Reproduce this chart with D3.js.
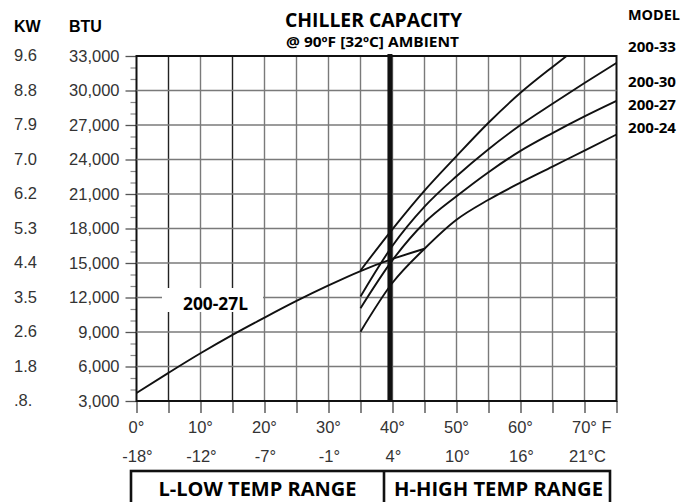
<!DOCTYPE html>
<html><head><meta charset="utf-8">
<script src="https://cdn.jsdelivr.net/npm/d3@7/dist/d3.min.js"></script>
<style>body{margin:0;background:#fff}svg{display:block}</style>
</head><body><svg id="c" width="683" height="502"></svg>
<script>
// ---- data ----
const btuTicks = [3000,6000,9000,12000,15000,18000,21000,24000,27000,30000,33000];
const kwLabels = [".8.","1.8","2.6","3.5","4.4","5.3","6.2","7.0","7.9","8.8","9.6"];
const fTicks = [0,10,20,30,40,50,60,70];
const fLabels = ["0°","10°","20°","30°","40°","50°","60°","70° F"];
const cLabels = ["-18°","-12°","-7°","-1°","4°","10°","16°","21°C"];
const lowTemp = [0,5,10,15,20,25,30,35,40,45];
const lowBtu  = [3700,5450,7150,8750,10250,11700,13050,14300,15350,16240];
const highTemp = [35,40,45,50,55,60,65,70,75];
const m24 = [9030,13280,16240,18760,20500,21990,23380,24780,26170];
const m27 = [11070,15250,18500,20800,22900,24750,26300,27750,29100];
const m30 = [12090,16500,19900,22550,24900,27000,28850,30650,32400];
const m33Temp = [35,40,45,50,55,60,65,67.2];
const m33 = [14350,17950,21300,24300,27200,29800,32050,33000];
const modelNames = ["200-33","200-30","200-27","200-24"];
const dividerTemp = 39.6;

const svg = d3.select("#c");
const x = d3.scaleLinear().domain([0,75]).range([136.5,616.5]);
const y = d3.scaleLinear().domain([3000,33000]).range([401,56]);
const sans = "'Liberation Sans', Arial, sans-serif";
const bold = "'Open Sans', sans-serif";
const W = x(75) - x(0);
const H = y(3000) - y(33000);

// vertical grid
svg.append("g").selectAll("rect").data(d3.range(5,75,5)).enter().append("rect")
  .attr("x",d=>x(d)-0.7).attr("width",1.4).attr("y",y(33000)).attr("height",H)
  .attr("fill",d=>(d===5||d===15)?"#222":"#7a7a7a");

// left axis
const yAxis = d3.axisLeft(y).tickValues(btuTicks).tickSize(11).tickFormat(d3.format(","));
const ya = svg.append("g").attr("transform",`translate(${x(0)},0)`).call(yAxis);
ya.select(".domain").remove();
ya.selectAll(".tick line").attr("stroke","#555").attr("stroke-width",1.3);
ya.selectAll(".tick text").attr("x",-17).attr("font-family",sans).attr("font-size",16.5).attr("fill","#333");
const minor = d3.range(3000,33000,1000).filter(d=>d%3000!==0);
const ym = svg.append("g").attr("transform",`translate(${x(0)},0)`)
  .call(d3.axisLeft(y).tickValues(minor).tickSize(6).tickFormat(""));
ym.select(".domain").remove();
ym.selectAll(".tick line").attr("stroke","#888").attr("stroke-width",1.2);

svg.append("g").selectAll("text").data(kwLabels).enter().append("text")
  .attr("x",14).attr("y",(d,i)=>y(btuTicks[i])).attr("dy","0.32em")
  .attr("font-family",sans).attr("font-size",16.5).attr("fill","#333").text(d=>d);
svg.append("text").attr("x",14).attr("y",32).attr("font-family",sans).attr("font-weight","bold").attr("font-size",16).text("KW");
svg.append("text").attr("x",69).attr("y",32).attr("font-family",sans).attr("font-weight","bold").attr("font-size",16).text("BTU");

// bottom axis
const xAxis = d3.axisBottom(x).tickValues(d3.range(0,80,5)).tickSize(12).tickFormat("");
const xa = svg.append("g").attr("transform",`translate(0,${y(3000)})`).call(xAxis);
xa.select(".domain").remove();
xa.selectAll(".tick line").attr("stroke","#444").attr("stroke-width",1.3);
svg.append("g").selectAll("text").data(fTicks).enter().append("text")
  .attr("x",(d,i)=>i===fTicks.length-1?x(d)-12.5:x(d)).attr("y",433)
  .attr("text-anchor",(d,i)=>i===fTicks.length-1?"start":"middle")
  .attr("font-family",sans).attr("font-size",16.5).attr("fill","#333").text((d,i)=>fLabels[i]);
svg.append("g").selectAll("text").data(fTicks).enter().append("text")
  .attr("x",(d,i)=>i===fTicks.length-1?x(d)+3:x(d)+1).attr("y",461.5)
  .attr("text-anchor","middle")
  .attr("font-family",sans).attr("font-size",16.5).attr("fill","#333").text((d,i)=>cLabels[i]);

// plot border
svg.append("rect").attr("x",x(0)).attr("y",y(33000)).attr("width",W).attr("height",H)
  .attr("fill","none").attr("stroke","#111").attr("stroke-width",2);

// horizontal grid (drawn as paths through the y scale)
svg.append("g").attr("class","hgrid").selectAll("path").data(btuTicks.slice(1,-1)).enter().append("path")
  .attr("d",d=>`M${x(0)},${y(d)}H${x(75)}`)
  .attr("stroke","#7a7a7a").attr("stroke-width",1.5).attr("fill","none");

// curves
const line = d3.line().x(d=>x(d[0])).y(d=>y(d[1])).curve(d3.curveMonotoneX);
const series = [
  d3.zip(lowTemp,lowBtu),
  d3.zip(highTemp,m24),
  d3.zip(highTemp,m27),
  d3.zip(highTemp,m30),
  d3.zip(m33Temp,m33)
];
svg.append("g").selectAll("path").data(series).enter().append("path")
  .attr("d",line).attr("fill","none").attr("stroke","#111").attr("stroke-width",1.9);

// divider
svg.append("rect").attr("x",x(dividerTemp)-2.5).attr("width",5).attr("y",y(33000)-2).attr("height",H+2).attr("fill","#111");

// 200-27L label
svg.append("rect").attr("x",162).attr("y",288).attr("width",101).attr("height",24).attr("fill","#fff");
svg.append("text").attr("x",215.5).attr("y",310).attr("text-anchor","middle").attr("font-family",bold)
  .attr("font-weight",700).attr("font-size",17).attr("textLength",65).attr("lengthAdjust","spacingAndGlyphs").text("200-27L");

// title
svg.append("text").attr("x",373.5).attr("y",26.5).attr("text-anchor","middle").attr("font-family",bold)
  .attr("font-weight",700).attr("font-size",20).attr("textLength",177).attr("lengthAdjust","spacingAndGlyphs").text("CHILLER CAPACITY");
svg.append("text").attr("x",372.5).attr("y",46.5).attr("text-anchor","middle").attr("font-family",bold)
  .attr("font-weight",700).attr("font-size",13.5).attr("textLength",173).attr("lengthAdjust","spacingAndGlyphs").text("@ 90ºF [32ºC] AMBIENT");

// model labels
svg.append("text").attr("x",628).attr("y",20).attr("font-family",bold).attr("font-weight",700).attr("font-size",14.5)
  .attr("textLength",52).attr("lengthAdjust","spacingAndGlyphs").text("MODEL");
const modelY = [51.5,87,110,133];
svg.append("g").selectAll("text").data(modelNames).enter().append("text")
  .attr("x",628).attr("y",(d,i)=>modelY[i]).attr("font-family",bold).attr("font-weight",700).attr("font-size",15)
  .attr("textLength",48).attr("lengthAdjust","spacingAndGlyphs").text(d=>d);

// bottom range box
svg.append("rect").attr("x",131).attr("y",471).attr("width",479).attr("height",40)
  .attr("fill","none").attr("stroke","#111").attr("stroke-width",2.6);
svg.append("rect").attr("x",382.7).attr("y",471).attr("width",2.6).attr("height",40).attr("fill","#111");
svg.append("text").attr("x",257.5).attr("y",495.5).attr("text-anchor","middle").attr("font-family",bold).attr("font-weight",700)
  .attr("font-size",19).attr("textLength",198).attr("lengthAdjust","spacingAndGlyphs").text("L-LOW TEMP RANGE");
svg.append("text").attr("x",498.5).attr("y",495.5).attr("text-anchor","middle").attr("font-family",bold).attr("font-weight",700)
  .attr("font-size",19).attr("textLength",209).attr("lengthAdjust","spacingAndGlyphs").text("H-HIGH TEMP RANGE");
</script></body></html>
